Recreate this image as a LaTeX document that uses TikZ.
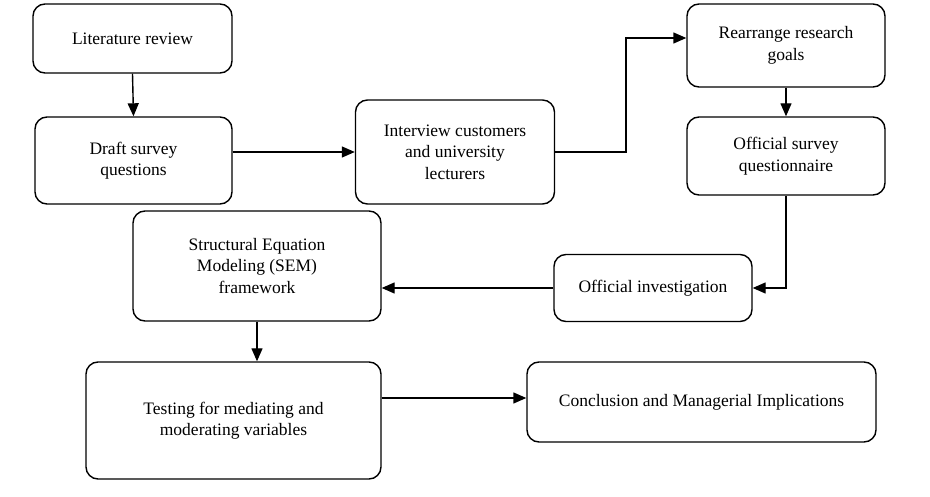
\documentclass[tikz,border=0pt]{standalone}
\usepackage{fontspec}
\setmainfont{Liberation Serif}
\usetikzlibrary{arrows.meta,calc}
\begin{document}
\begin{tikzpicture}[x=1pt,y=-1pt,
  flowbox/.style={draw, line width=1.4pt, rounded corners=12pt, align=center,
    inner sep=0pt, font=\fontsize{17.5}{21.5}\selectfont},
  flowarrow/.style={line width=1.4pt, -{Triangle[length=13pt,width=11pt]}}]
\useasboundingbox (0,0) rectangle (930,497);
\node[flowbox, minimum width=199pt, minimum height=69pt] (lit) at (132.5,38.5) {Literature review};
\node[flowbox, minimum width=197pt, minimum height=87pt] (draft) at (133.5,160.5) {Draft survey\\questions};
\node[flowbox, minimum width=199pt, minimum height=104pt] (interview) at (455,152) {Interview customers\\and university\\lecturers};
\node[flowbox, minimum width=198pt, minimum height=83pt] (goals) at (786,45.5) {Rearrange research\\goals};
\node[flowbox, minimum width=198pt, minimum height=78pt] (official) at (786,156) {Official survey\\questionnaire};
\node[flowbox, minimum width=198pt, minimum height=67pt] (invest) at (653,288) {Official investigation};
\node[flowbox, minimum width=248pt, minimum height=110pt] (sem) at (257,266) {Structural Equation\\Modeling (SEM)\\framework};
\node[flowbox, minimum width=295pt, minimum height=117pt] (test) at (233.5,420.5) {Testing for mediating and\\moderating variables};
\node[flowbox, minimum width=349pt, minimum height=80pt] (concl) at (701.5,402) {Conclusion and Managerial Implications};
\coordinate (bend) at (626,38);
\coordinate (tc) at (0,398);
\draw[flowarrow] (lit.south) -- (draft.north);
\draw[flowarrow] (draft.east |- interview.west) -- (interview.west);
\draw[flowarrow] (interview.east) -| (bend) -- (goals.west |- bend);
\draw[flowarrow] (goals.south) -- (official.north);
\draw[flowarrow] (official.south) |- (invest.east);
\draw[flowarrow] (invest.west) -- (sem.east |- invest.west);
\draw[flowarrow] (sem.south) -- (sem.south |- test.north);
\draw[flowarrow] (test.east |- tc) -- (concl.west |- tc);
\end{tikzpicture}
\end{document}
